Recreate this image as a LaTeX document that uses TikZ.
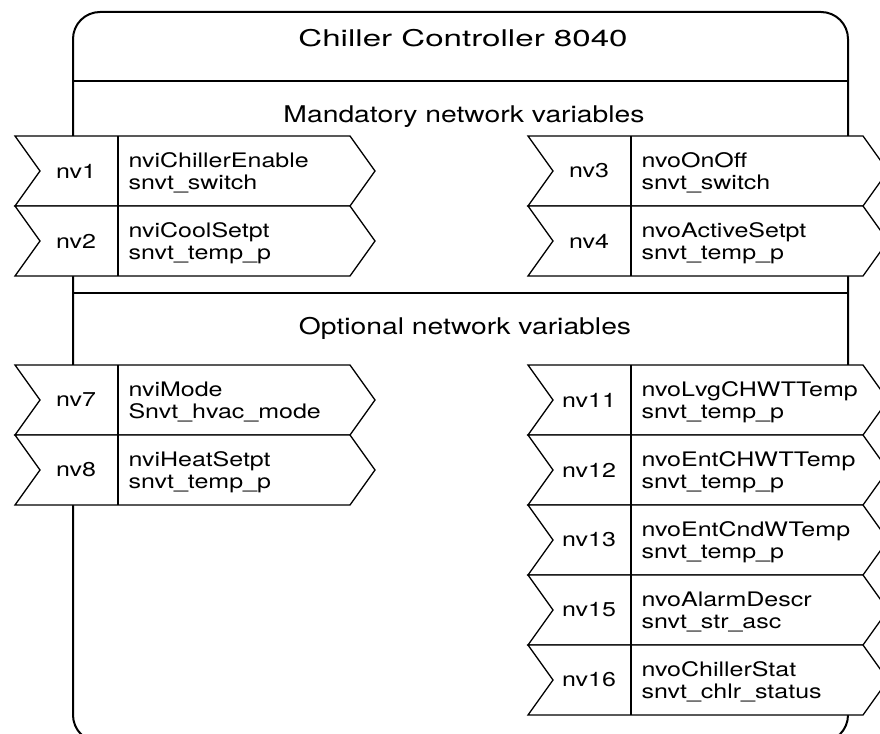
\documentclass[tikz,border=0pt]{standalone}
\usepackage{fontspec}
\usepackage{tikz}
\usetikzlibrary{positioning}
\newfontfamily\titlefont[FakeStretch=1.44]{TeX Gyre Heros}
\newfontfamily\headfont[FakeStretch=1.23]{TeX Gyre Heros}
\newfontfamily\labelfont[FakeStretch=1.25]{TeX Gyre Heros}

% one network variable: left x, top y, name, variable, type
\newcommand{\nvbox}[5]{%
  \draw[nvshape] (#1,#2) -- ++(335,0) -- ++(25,35) -- ++(-25,35) -- ++(-335,0) -- ++(25,-35) -- cycle;
  \draw[nvline] (#1+103,#2) -- ++(0,70);
  \node[numtext] (#3) at (#1+61,#2+35) {#3};
  \node[desctext] (#3desc) at (#1+110,#2+37) {#4\\#5};
}

\begin{document}
\begin{tikzpicture}[
    x=1pt, y=-1pt,
    controller/.style={draw, line width=2pt, rounded corners=27pt},
    sepline/.style={draw, line width=1.4pt},
    nvshape/.style={draw, fill=white, line width=1.3pt, line join=miter},
    nvline/.style={draw, line width=1.3pt},
    titletext/.style={font=\titlefont\fontsize{23}{28}\selectfont, anchor=base},
    headtext/.style={font=\headfont\fontsize{23}{28}\selectfont, anchor=base},
    numtext/.style={font=\labelfont\fontsize{20}{22}\selectfont},
    desctext/.style={font=\labelfont\fontsize{20}{22.5}\selectfont, align=left, anchor=west}
]
    \useasboundingbox (0,0) rectangle (880,733);

    \draw[controller] (73,12) rectangle (848,742);
    \draw[sepline] (73,81) -- (848,81);
    \draw[sepline] (73,293) -- (848,293);

    \node[titletext] (title) at (463,47) {Chiller Controller 8040};
    \node[headtext] (mandatory) at (464,122) {Mandatory network variables};
    \node[headtext] (optional) at (465,334) {Optional network variables};

    % mandatory
    \nvbox{15}{136}{nv1}{nviChillerEnable}{snvt\_switch}
    \nvbox{15}{206}{nv2}{nviCoolSetpt}{snvt\_temp\_p}
    \nvbox{528}{136}{nv3}{nvoOnOff}{snvt\_switch}
    \nvbox{528}{206}{nv4}{nvoActiveSetpt}{snvt\_temp\_p}

    % optional
    \nvbox{15}{365}{nv7}{nviMode}{Snvt\_hvac\_mode}
    \nvbox{15}{435}{nv8}{nviHeatSetpt}{snvt\_temp\_p}
    \nvbox{528}{365}{nv11}{nvoLvgCHWTTemp}{snvt\_temp\_p}
    \nvbox{528}{435}{nv12}{nvoEntCHWTTemp}{snvt\_temp\_p}
    \nvbox{528}{505}{nv13}{nvoEntCndWTemp}{snvt\_temp\_p}
    \nvbox{528}{575}{nv15}{nvoAlarmDescr}{snvt\_str\_asc}
    \nvbox{528}{645}{nv16}{nvoChillerStat}{snvt\_chlr\_status}
\end{tikzpicture}
\end{document}
